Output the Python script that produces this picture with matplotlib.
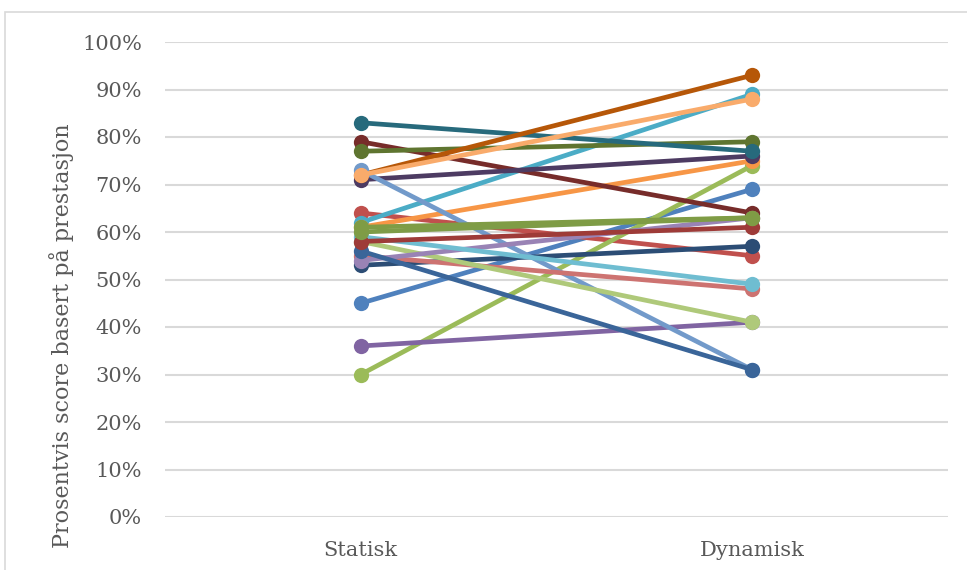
import matplotlib
matplotlib.use("Agg")
import matplotlib.pyplot as plt
from matplotlib.patches import Rectangle
from matplotlib.ticker import PercentFormatter

categories = ["Statisk", "Dynamisk"]

# (statisk, dynamisk) score per participant, in percent
p01 = [45, 69]
p02 = [64, 55]
p03 = [30, 74]
p04 = [36, 41]
p05 = [62, 89]
p06 = [61, 75]
p07 = [53, 57]
p08 = [79, 64]
p09 = [77, 79]
p10 = [71, 76]
p11 = [83, 77]
p12 = [72, 93]
p13 = [73, 31]
p14 = [55, 48]
p15 = [58, 41]
p16 = [54, 63]
p17 = [59, 49]
p18 = [72, 88]
p19 = [56, 31]
p20 = [58, 61]
p21 = [60, 63]
p22 = [61, 63]

series = [p01, p02, p03, p04, p05, p06, p07, p08, p09, p10, p11,
          p12, p13, p14, p15, p16, p17, p18, p19, p20, p21, p22]

colors = ["#4F81BD", "#C0504D", "#9BBB59", "#8064A2", "#4BACC6", "#F79646",
          "#2C4D75", "#772C2A", "#5F7530", "#4D3B62", "#276A7C", "#B65708",
          "#729ACA", "#CD7371", "#AFC97A", "#9983B5", "#6FBDD1", "#F9AB6B",
          "#3A6599", "#9E3B38", "#7E9C47", "#7F9C45"]

W, H = 967, 570
fig = plt.figure(figsize=(W / 100, H / 100), dpi=100)
fig.patch.set_facecolor("white")

# chart frame
fig.patches.append(Rectangle((5 / W, -0.1), 1.2, 1.1 - 12 / H,
                             transform=fig.transFigure, fill=False,
                             edgecolor="#D9D9D9", linewidth=1.2))

left, right, top, bottom = 165, 948, 42, 517
ax = fig.add_axes([left / W, 1 - bottom / H, (right - left) / W, (bottom - top) / H])

font = "DejaVu Serif"
text_color = "#595959"

x = list(range(len(categories)))
for vals, c in zip(series, colors):
    ax.plot(x, [v / 100 for v in vals], color=c, linewidth=3.4,
            marker="o", markersize=11, markeredgewidth=0,
            solid_capstyle="round", zorder=3)

ax.set_xlim(-0.5, len(categories) - 0.5)
ax.set_ylim(0, 1.0)
ax.set_yticks([i / 10 for i in range(11)])
ax.yaxis.set_major_formatter(PercentFormatter(1.0, decimals=0))
ax.set_xticks(x)
ax.set_xticklabels(categories)

ax.grid(axis="y", color="#D9D9D9", linewidth=1.5, zorder=0)
ax.set_axisbelow(True)
for s in ax.spines.values():
    s.set_visible(False)
ax.tick_params(axis="both", length=0, colors=text_color, labelsize=15)
ax.tick_params(axis="y", pad=16.5)
ax.tick_params(axis="x", pad=17)
for lbl in ax.get_xticklabels() + ax.get_yticklabels():
    lbl.set_fontfamily(font)

fig.text(62 / W, 1 - 336 / H, "Prosentvis score basert på prestasjon",
         rotation=90, ha="center", va="center", fontsize=16,
         fontfamily=font, color=text_color)

fig.savefig("out.png", dpi=100)
